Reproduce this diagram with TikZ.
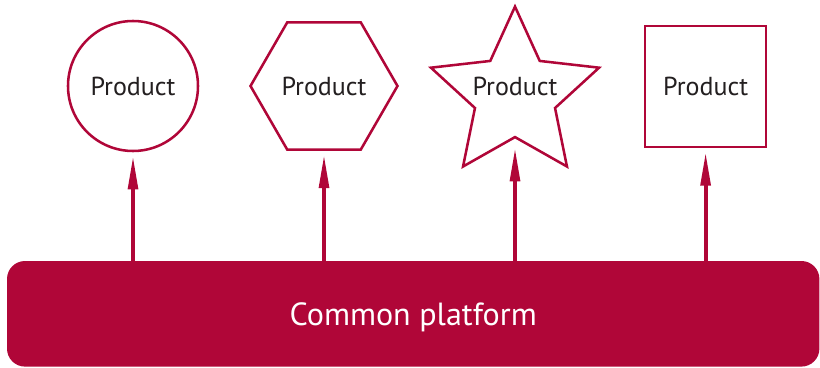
\documentclass[tikz,border=0pt]{standalone}
\usepackage{fontspec}
\setmainfont{PT Sans}
\usetikzlibrary{shapes.geometric,arrows.meta}
\definecolor{plum}{RGB}{176,6,56}
\definecolor{ink}{RGB}{35,31,32}

\begin{document}
\begin{tikzpicture}[
  every node/.style={font=\fontsize{18.5}{22}\selectfont, text=ink},
  prod/.style={draw=plum, line width=1.8pt, fill=white, inner sep=0pt, align=center},
  plat/.style={fill=plum, rectangle, rounded corners=0.45cm, minimum width=20.31cm,
               minimum height=2.64cm, text=white, text depth=0pt,
               font=\fontsize{22.8}{26}\selectfont},
  up/.style={-{Triangle[length=0.85cm, width=0.24cm]}, draw=plum, fill=plum,
             line width=0.1cm, shorten >=0.08cm}]

\useasboundingbox (0,0) rectangle (20.5,9.175);

%% ---- PRODUCTS (top row) ----
\node[prod, circle, minimum size=3.25cm]                        (P1) at ( 3.325, 7.025) {Product};
\node[prod, regular polygon, regular polygon sides=6,
      minimum size=3.675cm]                                     (P2) at ( 8.100, 7.025) {Product};
\node[prod, star, star points=5, star point ratio=2.1,
      minimum size=4.42cm]                                      (P3) at (12.875, 6.800) {};
\node                                                           (L3) at (12.875, 7.025) {Product};
\node[prod, rectangle, minimum size=3.025cm]                    (P4) at (17.640, 7.010) {Product};

%% ---- PLATFORM ----
\node[plat] (CP) at (10.33, 1.33) {Common platform};

%% --- Arrows ---
\draw[up] (CP.north -| P1.south) -- (P1.south);
\draw[up] (CP.north -| P2.south) -- (P2.south);
\draw[up, shorten >=0.22cm] (CP.north -| P3.south) -- (P3.south);
\draw[up] (CP.north -| P4.south) -- (P4.south);
\end{tikzpicture}
\end{document}
